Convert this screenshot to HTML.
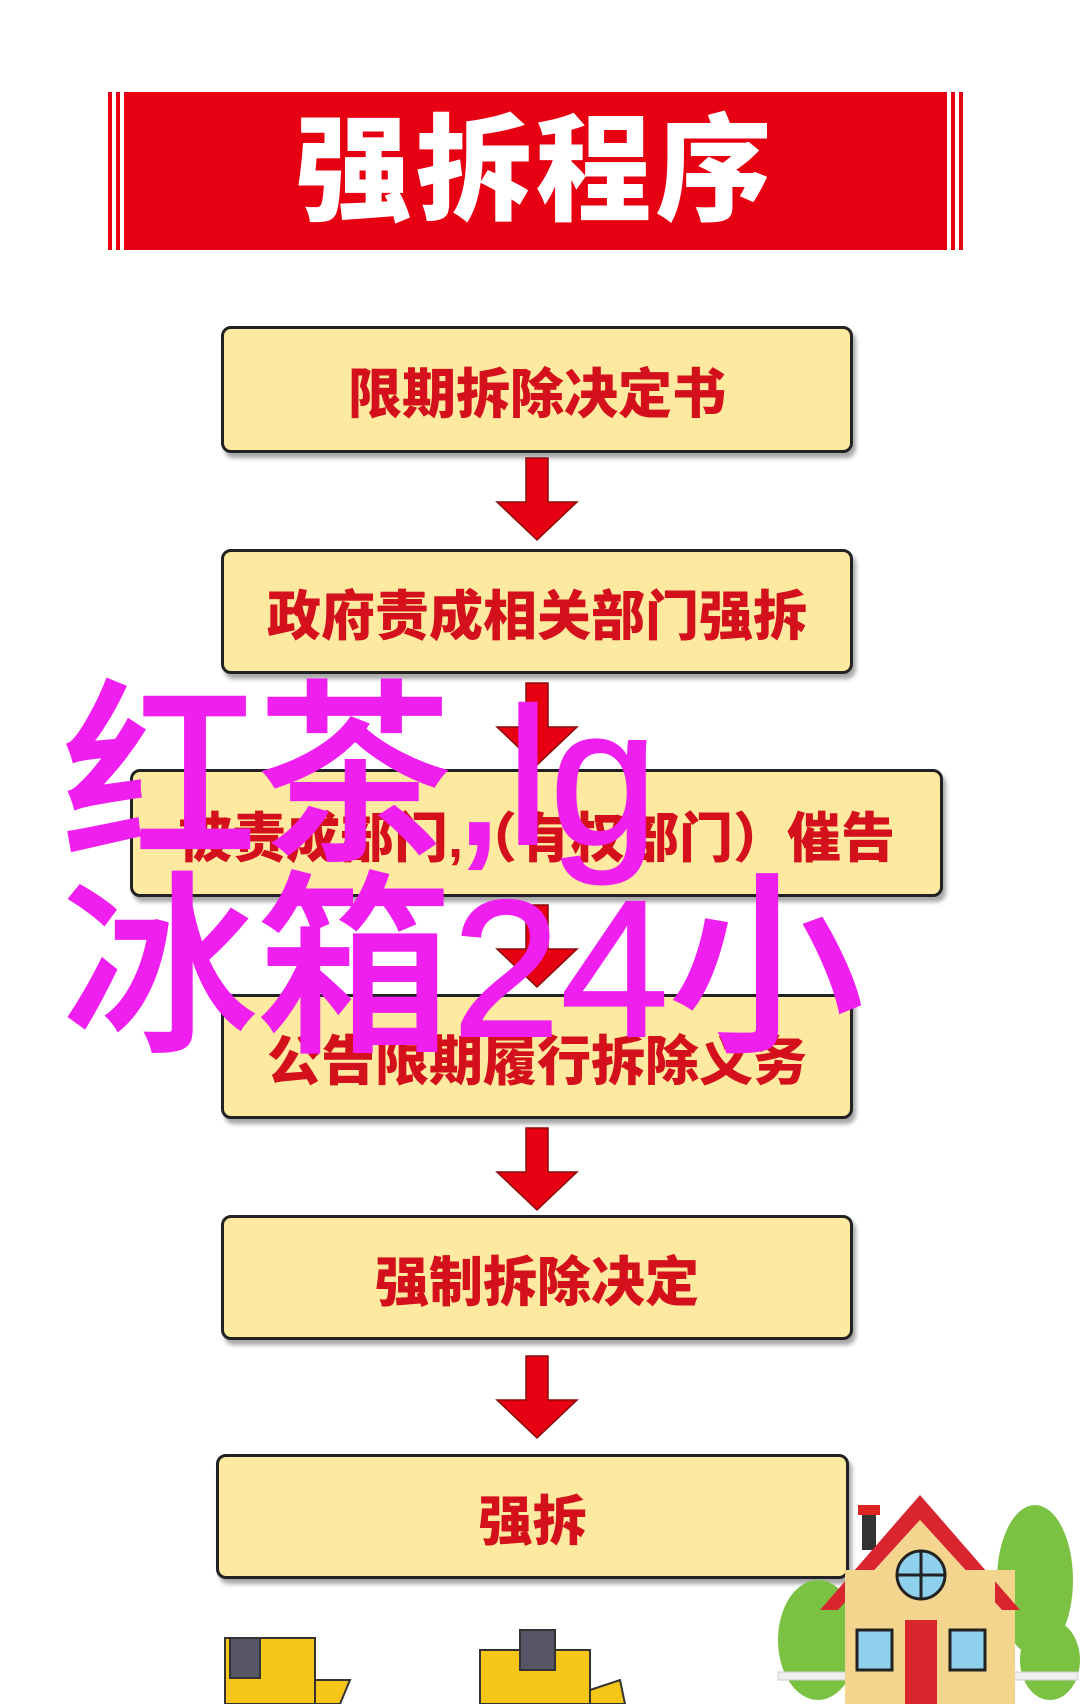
<!DOCTYPE html>
<html><head><meta charset="utf-8"><style>
body{margin:0;width:1080px;height:1704px;background:#fff;position:relative;overflow:hidden;font-family:"Liberation Sans","Noto Sans CJK SC",sans-serif}
.banner{position:absolute;left:108px;top:92px;width:855px;height:158px;background:#e60012}
.banner .s{position:absolute;top:0;bottom:0;width:4px;background:#fff}
.title{position:absolute;left:0;right:0;top:0;height:158px;line-height:158px;text-align:center;color:#fff;font-size:116px;font-weight:900;letter-spacing:4px}
.box{position:absolute;background:#fdeaa0;border:3px solid #222;border-radius:10px;box-shadow:3px 5px 4px rgba(0,0,0,.35);box-sizing:border-box;text-align:center;color:#d4101c;font-weight:900;font-size:54px;display:flex;align-items:center;justify-content:center}
.ov{position:absolute;left:62px;color:#ef1fef;font-size:195px;line-height:195px;font-weight:500;white-space:nowrap;font-family:"Liberation Sans","Noto Sans CJK SC",sans-serif;-webkit-text-stroke:2px #ef1fef}
</style></head><body>
<div class="banner"><div class="s" style="left:4px"></div><div class="s" style="left:12px"></div><div class="s" style="right:4px"></div><div class="s" style="right:12px"></div><div class="title">强拆程序</div></div>

<div class="box" style="left:221px;top:326px;width:632px;height:127px">限期拆除决定书</div>
<div class="box" style="left:221px;top:549px;width:632px;height:125px">政府责成相关部门强拆</div>
<div class="box" style="left:130px;top:769px;width:813px;height:128px">被责成部门,（有权部门）催告</div>
<div class="box" style="left:221px;top:994px;width:632px;height:125px">公告限期履行拆除义务</div>
<div class="box" style="left:221px;top:1215px;width:632px;height:125px">强制拆除决定</div>
<div class="box" style="left:216px;top:1454px;width:633px;height:125px">强拆</div>

<svg style="position:absolute;left:0;top:0" width="1080" height="1704">
<defs><g id="a"><polygon points="-11,0 11,0 11,44 40,44 0,82 -40,44 -11,44" fill="#e60012" stroke="#8a0a0a" stroke-width="1.5"/></g></defs>
<use href="#a" x="537" y="458"/>
<use href="#a" x="537" y="683"/>
<use href="#a" x="537" y="905"/>
<use href="#a" x="537" y="1128"/>
<use href="#a" x="537" y="1356"/>
<ellipse cx="818" cy="1640" rx="40" ry="60" fill="#7cc242"/>
<ellipse cx="1035" cy="1580" rx="38" ry="75" fill="#7cc242"/>
<ellipse cx="1050" cy="1660" rx="30" ry="40" fill="#7cc242"/>
<rect x="778" y="1672" width="300" height="8" fill="#eee" stroke="#ccc"/>
<rect x="862" y="1510" width="14" height="40" fill="#333"/><rect x="858" y="1505" width="22" height="10" fill="#d22"/>
<rect x="845" y="1570" width="170" height="134" fill="#f3d58e"/>
<polygon points="920,1495 820,1610 838,1610 920,1520 1002,1610 1020,1610" fill="#d9262e"/>
<polygon points="920,1520 845,1603 845,1570 995,1570 995,1603" fill="#f3d58e"/>
<circle cx="921" cy="1575" r="24" fill="#8fd0ec" stroke="#222" stroke-width="3"/>
<line x1="921" y1="1551" x2="921" y2="1599" stroke="#222" stroke-width="3"/><line x1="897" y1="1575" x2="945" y2="1575" stroke="#222" stroke-width="3"/>
<rect x="857" y="1630" width="35" height="40" fill="#8fd0ec" stroke="#222" stroke-width="3"/>
<rect x="950" y="1630" width="35" height="40" fill="#8fd0ec" stroke="#222" stroke-width="3"/>
<rect x="905" y="1620" width="32" height="84" fill="#d9262e"/>
<g fill="#f5c518" stroke="#333" stroke-width="2">
<rect x="225" y="1638" width="90" height="66"/><rect x="230" y="1638" width="30" height="40" fill="#556"/>
<polygon points="315,1680 350,1680 340,1704 315,1704"/>
<rect x="480" y="1650" width="110" height="54"/><rect x="520" y="1630" width="35" height="40" fill="#556"/>
<polygon points="590,1690 620,1680 625,1704 590,1704"/>
</g>
</svg>

<div class="ov" style="top:680px">红茶,lg</div>
<div class="ov" style="top:872px">冰箱24小</div>
</body></html>
